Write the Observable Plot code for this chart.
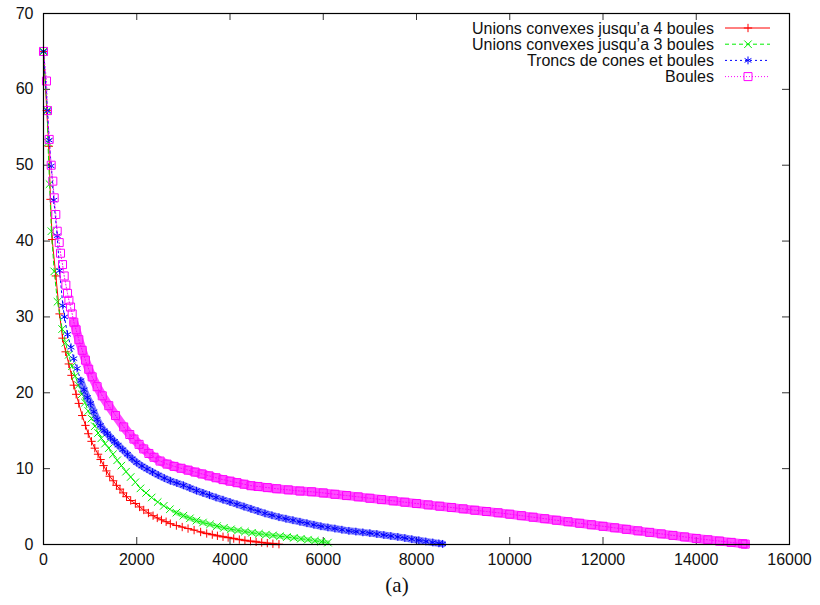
<!DOCTYPE html>
<html><head><meta charset="utf-8">
<script src="https://cdn.jsdelivr.net/npm/d3@7"></script>
<script src="https://cdn.jsdelivr.net/npm/@observablehq/plot@0.6"></script>
<style>
body{margin:0;background:#fff;}
#caption{font-family:"Liberation Serif","DejaVu Serif",serif;font-size:21px;width:794px;text-align:center;height:35px;line-height:30px;color:#111;}
</style></head>
<body>
<div id="chart"></div>
<div id="caption">(a)</div>
<script>
const xTicks = [0, 2000, 4000, 6000, 8000, 10000, 12000, 14000, 16000];
const yTicks = [0, 10, 20, 30, 40, 50, 60, 70];
const seriesNames = ["Unions convexes jusqu’a 4 boules", "Unions convexes jusqu’a 3 boules", "Troncs de cones et boules", "Boules"];

const red = [[0,65.0],[70,57.2],[114,52.5],[150,45.5],[186,40.2],[265,35.4],[345,30.4],[408,27.2],[475,25.4],[543,23.8],[600,22.3],[650,21.0],[700,19.8],[757,18.6],[830,17.0],[900,15.7],[960,14.6],[1030,13.6],[1100,12.7],[1170,11.9],[1225,11.2],[1290,10.4],[1350,9.7],[1420,9.0],[1495,8.4],[1565,7.8],[1640,7.3],[1710,6.8],[1780,6.3],[1870,5.8],[1970,5.4],[2060,4.95],[2150,4.55],[2250,4.15],[2350,3.8],[2440,3.5],[2530,3.25],[2630,3.0],[2720,2.75],[2850,2.5],[2975,2.3],[3100,2.1],[3230,1.9],[3370,1.65],[3500,1.45],[3620,1.3],[3730,1.15],[3850,1.02],[3960,0.92],[4080,0.78],[4200,0.65],[4320,0.54],[4440,0.44],[4560,0.35],[4680,0.26],[4800,0.18],[4920,0.1],[5050,0.04]];

const green = [[0,65.0],[80,57.2],[95,53.0],[130,47.5],[170,41.3],[230,36.0],[300,32.0],[400,28.4],[472,26.6],[540,25.0],[610,23.5],[680,22.2],[750,21.0],[820,19.8],[890,18.7],[960,17.6],[1030,16.6],[1100,15.6],[1170,14.7],[1240,14.0],[1320,13.3],[1400,12.7],[1490,11.9],[1580,11.1],[1670,10.4],[1770,9.6],[1870,8.9],[1970,8.2],[2080,7.4],[2200,6.8],[2320,6.2],[2450,5.6],[2580,5.1],[2710,4.65],[2850,4.2],[3000,3.8],[3140,3.45],[3280,3.15],[3420,2.9],[3570,2.65],[3720,2.42],[3870,2.2],[4020,2.0],[4170,1.85],[4320,1.7],[4470,1.55],[4620,1.42],[4770,1.3],[4920,1.2],[5070,1.08],[5220,0.98],[5370,0.88],[5520,0.76],[5670,0.64],[5820,0.5],[5960,0.37],[6100,0.25]];

const blue = [[0,65.0],[86,57.2],[122,53.3],[165,49.9],[221,45.4],[294,40.7],[345,36.1],[415,31.5],[450,30.0],[515,27.7],[590,26.0],[650,24.5],[720,23.2],[800,21.6],[870,20.4],[940,19.4],[1010,18.6],[1080,17.5],[1150,16.5],[1220,15.7],[1300,15.0],[1370,14.6],[1440,14.1],[1520,13.6],[1600,13.1],[1700,12.5],[1800,11.9],[1900,11.3],[2000,10.8],[2110,10.35],[2220,9.95],[2340,9.55],[2460,9.15],[2590,8.75],[2720,8.4],[2860,8.1],[3000,7.8],[3140,7.45],[3280,7.1],[3420,6.8],[3560,6.5],[3700,6.2],[3850,5.9],[4000,5.6],[4150,5.3],[4300,5.0],[4450,4.7],[4600,4.4],[4750,4.1],[4900,3.85],[5050,3.6],[5200,3.4],[5350,3.2],[5500,3.0],[5650,2.8],[5800,2.6],[5950,2.4],[6100,2.25],[6250,2.1],[6400,1.95],[6550,1.8],[6700,1.7],[6850,1.6],[7000,1.5],[7150,1.38],[7300,1.25],[7450,1.12],[7600,1.0],[7750,0.85],[7900,0.7],[8050,0.55],[8200,0.4],[8350,0.27],[8480,0.15],[8560,0.08]];

const magenta = [[0,65.0],[64,61.1],[86,57.2],[122,53.4],[165,50.0],[200,47.9],[230,45.7],[264,43.5],[294,41.3],[337,39.8],[365,38.4],[408,36.9],[444,35.4],[480,34.2],[515,33.1],[545,32.2],[580,31.3],[615,30.4],[650,29.3],[700,28.3],[758,27.0],[830,25.6],[900,24.3],[970,23.1],[1044,22.1],[1150,20.8],[1260,19.6],[1400,18.3],[1545,17.0],[1720,15.5],[1850,14.5],[1940,13.9],[2050,13.2],[2150,12.6],[2260,12.0],[2370,11.5],[2500,11.0],[2650,10.6],[2800,10.3],[2950,10.05],[3100,9.8],[3250,9.55],[3400,9.3],[3550,9.05],[3700,8.8],[3850,8.55],[4000,8.35],[4150,8.15],[4300,7.95],[4450,7.75],[4600,7.65],[4800,7.5],[5000,7.35],[5250,7.2],[5500,7.05],[5750,6.95],[6000,6.8],[6250,6.62],[6500,6.45],[6750,6.28],[7000,6.1],[7250,5.92],[7500,5.75],[7750,5.58],[8000,5.4],[8250,5.22],[8500,5.05],[8750,4.88],[9000,4.7],[9250,4.52],[9500,4.35],[9750,4.18],[10000,4.0],[10250,3.8],[10500,3.6],[10750,3.4],[11000,3.2],[11250,3.0],[11500,2.8],[11750,2.6],[12000,2.4],[12250,2.2],[12500,2.0],[12750,1.8],[13000,1.6],[13250,1.4],[13500,1.2],[13750,1.0],[14000,0.8],[14250,0.62],[14500,0.45],[14750,0.28],[15000,0.1],[15050,0.05]];

const W = 820, H = 570, mL = 43, mR = 31, mT = 13, mB = 26;
const innerW = W - mL - mR, innerH = H - mT - mB, tickLen = 7;

const styles = [
  {color: "#ff0000", dash: null, symbol: "plus", r: 2.8},
  {color: "#00ee00", dash: "4,3", symbol: "times", r: 3.5},
  {color: "#0000ff", dash: "2,3", symbol: "asterisk", r: 3.7},
  {color: "#ff00ff", dash: "1,2", symbol: "square2", r: 5.1}
];
// thick translucent band under the densely-packed part of each series (overlapping markers in the original)
const bands = [{from: 3300, w: 3, op: 0.3}, {from: 2800, w: 5, op: 0.35}, {from: 800, w: 7, op: 0.5}, {from: 640, w: 9, op: 0.7}];
const rows = [red, green, blue, magenta].map((arr, i) => arr.map(([x, y]) => ({x, y, s: i})));

const marks = [
  Plot.tickX(xTicks, {x: d => d, insetTop: innerH - tickLen, stroke: "#333"}),
  Plot.tickX(xTicks, {x: d => d, insetBottom: innerH - tickLen, stroke: "#333"}),
  Plot.tickY(yTicks, {y: d => d, insetRight: innerW - tickLen, stroke: "#333"}),
  Plot.tickY(yTicks, {y: d => d, insetLeft: innerW - tickLen, stroke: "#333"}),
  Plot.axisX(xTicks, {tickSize: 0, tickPadding: 9, fontSize: 16, label: null, fill: "#111", tickFormat: d3.format("d")}),
  Plot.axisY(yTicks, {tickSize: 0, tickPadding: 10, fontSize: 16, label: null, fill: "#111", tickFormat: d3.format("d")})
];
rows.forEach((d, i) => {
  const st = styles[i], b = bands[i];
  if (b) marks.push(Plot.line(d.filter(p => p.x >= b.from), {x: "x", y: "y", stroke: st.color, strokeWidth: b.w, strokeOpacity: b.op}));
  marks.push(Plot.line(d, {x: "x", y: "y", stroke: st.color, strokeWidth: 1, strokeDasharray: st.dash}));
  marks.push(Plot.dot(d, {x: "x", y: "y", symbol: st.symbol, stroke: st.color, fill: "none", r: st.r, strokeWidth: 1}));
});
marks.push(Plot.frame({stroke: "#000", strokeWidth: 1.2}));

const chart = Plot.plot({
  width: W, height: H,
  marginLeft: mL, marginRight: mR, marginTop: mT, marginBottom: mB,
  style: {fontFamily: "'Liberation Sans', Arial, sans-serif", fontSize: "16px", background: "#fff"},
  x: {domain: [0, 16000], axis: null},
  y: {domain: [0, 70], axis: null},
  marks
});
document.getElementById("chart").appendChild(chart);

// legend (gnuplot key, top right)
const svg = d3.select(chart);
const key = svg.append("g").attr("font-family", "'Liberation Sans', Arial, sans-serif").attr("font-size", 16);
const symMap = {plus: d3.symbolPlus, times: d3.symbolTimes, asterisk: d3.symbolAsterisk, square2: d3.symbolSquare2};
seriesNames.forEach((name, i) => {
  const st = styles[i];
  const yy = 28 + i * 16.2;
  key.append("text").attr("x", 714).attr("y", yy).attr("dy", "0.36em").attr("text-anchor", "end").attr("fill", "#111").text(name);
  const ln = key.append("line").attr("x1", 725).attr("x2", 770).attr("y1", yy).attr("y2", yy).attr("stroke", st.color).attr("stroke-width", 1);
  if (st.dash) ln.attr("stroke-dasharray", st.dash);
  key.append("path").attr("transform", `translate(748,${yy})`)
    .attr("d", d3.symbol(symMap[st.symbol], Math.PI * st.r * st.r)())
    .attr("fill", "none").attr("stroke", st.color).attr("stroke-width", 1);
});
</script>
</body></html>
